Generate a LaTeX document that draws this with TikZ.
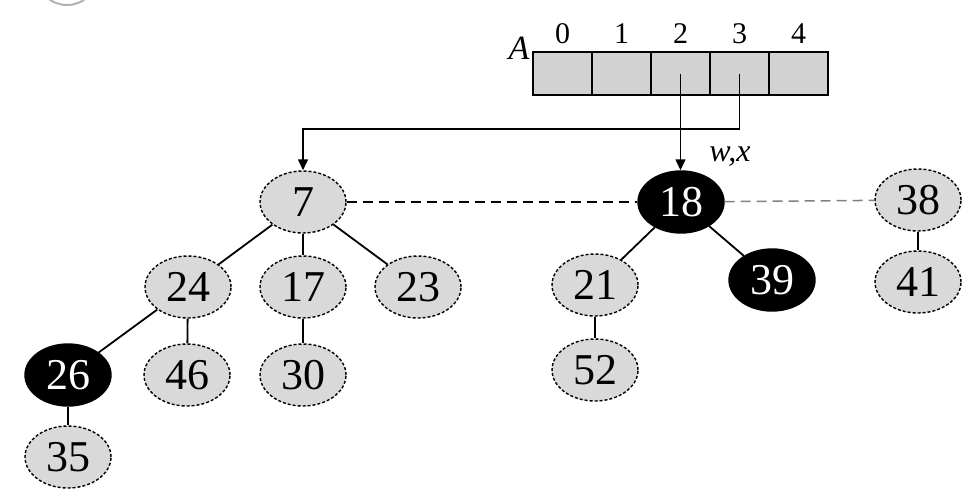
\documentclass[tikz,border=0pt]{standalone}
\usepackage{fontspec}
\setmainfont{Liberation Serif}
\usetikzlibrary{shapes.geometric,arrows.meta}
\begin{document}
\begin{tikzpicture}[x=1pt,y=-1pt,
 hn/.style={ellipse, draw, densely dashed, line width=1.4pt, fill=gray!30, minimum width=86pt, minimum height=62pt, inner sep=0pt, font=\fontsize{44}{44}\selectfont},
 bn/.style={hn, fill=black, text=white, solid},
 edge/.style={line width=1.8pt},
 cell/.style={draw, line width=1.8pt, fill=gray!35, minimum width=59pt, minimum height=43pt, inner sep=0pt},
 idx/.style={font=\fontsize{30}{30}\selectfont},
 ptr/.style={line width=1.4pt, -{Triangle[length=11pt,width=10pt]}},
 link/.style={line width=1.5pt, dash pattern=on 10pt off 6pt}]
\useasboundingbox (0,0) rectangle (963,490);
\draw[gray!60, line width=2pt] (67,-20) ellipse [x radius=28pt, y radius=25pt];
% array
\foreach \i/\x in {0/562.5,1/621.5,2/680.5,3/739.5,4/798.5}{
  \node[cell] (c\i) at (\x,73.5) {};
  \node[idx] (i\i) at (\x,34) {\i};
}
\node[font=\itshape\fontsize{34}{34}\selectfont] (A) at (519,48) {A};
% trees
\node[hn] (n7)  at (303,202) {7};
\node[bn] (n18) at (681,202) {18};
\node[hn] (n38) at (918,200) {38};
\node[hn] (n24) at (188,287) {24};
\node[hn] (n17) at (303,287) {17};
\node[hn] (n23) at (418,287) {23};
\node[hn] (n21) at (595,285) {21};
\node[bn] (n39) at (772,280) {39};
\node[hn] (n41) at (918,282) {41};
\node[bn] (n26) at (68,375) {26};
\node[hn] (n46) at (187,375) {46};
\node[hn] (n30) at (303,375) {30};
\node[hn] (n52) at (595,370) {52};
\node[hn] (n35) at (68,457) {35};
\node[font=\itshape\fontsize{32}{32}\selectfont] (wx) at (730,157) {w,x};
% edges
\draw[edge] (n7) -- (n24);
\draw[edge] (n7) -- (n17);
\draw[edge] (n7) -- (n23);
\draw[edge] (n24) -- (n26);
\draw[edge] (n24) -- (n46);
\draw[edge] (n26) -- (n35);
\draw[edge] (n17) -- (n30);
\draw[edge] (n18) -- (n21);
\draw[edge] (n18) -- (n39);
\draw[edge] (n21) -- (n52);
\draw[edge] (n38) -- (n41);
% root list
\draw[link] (n7) -- (n18);
\draw[link, gray] (n18) -- (n38);
% pointers
\coordinate (turn) at (303,129);
\draw[ptr] (c2.center) -- (c2.center |- n18.north);
\draw[ptr] (c3.center) |- (turn) -- (n7.north);
\end{tikzpicture}
\end{document}
